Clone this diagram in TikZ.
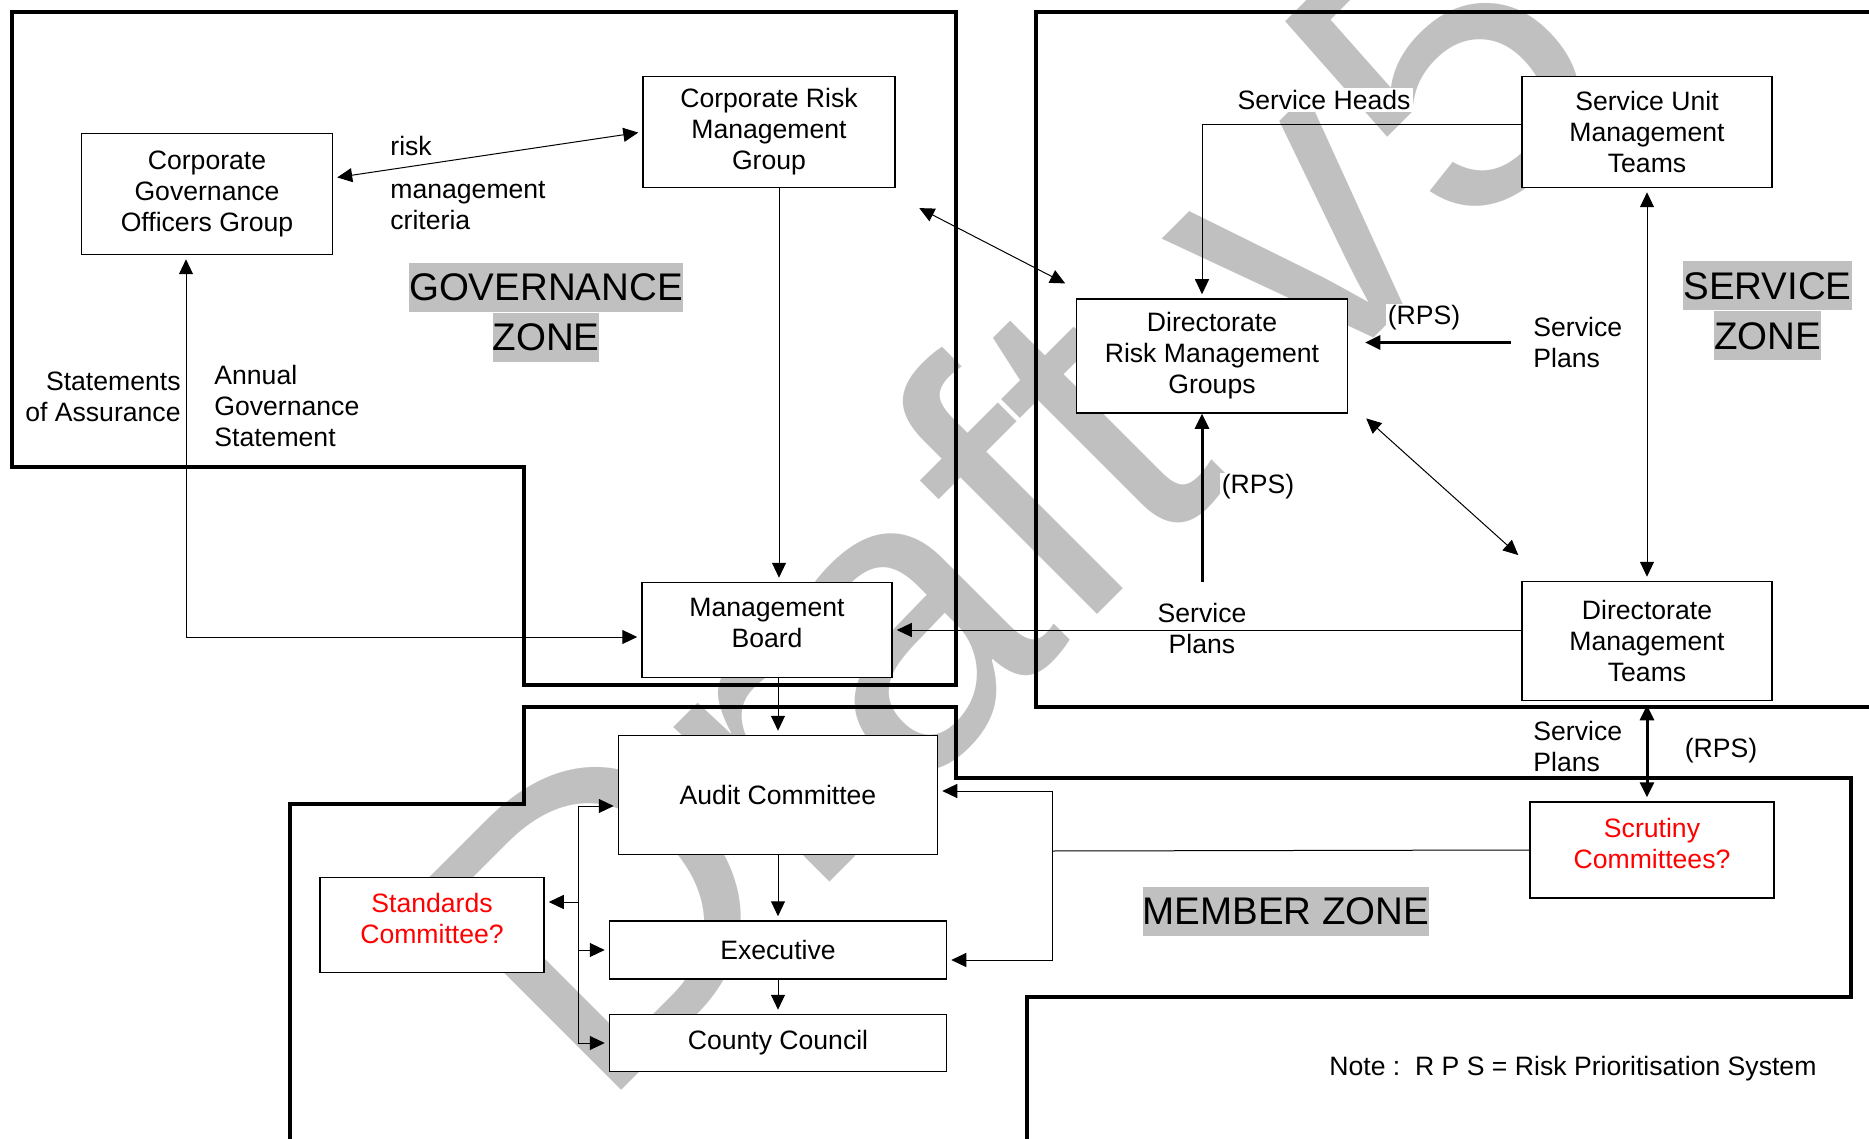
\documentclass[tikz,border=0pt]{standalone}
\usepackage{fontspec}
\setmainfont{Liberation Sans}
\usepackage{xcolor}
\definecolor{shade}{HTML}{C0C0C0}
\definecolor{query}{HTML}{FF0000}
\usepackage{tikz}
\usetikzlibrary{arrows.meta}

\begin{document}
\begin{tikzpicture}[
  x=0.5pt, y=-0.5pt,
  >={Triangle[length=7.5pt, width=7pt]},
  every node/.style={font=\fontsize{13.3}{15.5}\selectfont},
  box/.style={draw, fill=white, line width=0.75pt, align=center, inner sep=0pt},
  qbox/.style={box, text=query, text depth=7pt},
  lbl/.style={fill=white, inner sep=1pt, align=left},
  zonelbl/.style={fill=shade, inner xsep=0pt, inner ysep=0pt, minimum height=24.5pt,
                  font=\fontsize{19.25}{24.5}\selectfont},
  zone/.style={line width=2.4pt, line join=miter},
  link/.style={line width=0.5pt},
  arr/.style={link, ->, shorten >=2pt},
  darr/.style={link, <->, shorten >=2pt, shorten <=2pt},
  thk/.style={line width=1.5pt}
]
\useasboundingbox (0,0) rectangle (1869,1139);

\node[rotate=45, anchor=base west, inner sep=0pt, text=shade,
      font=\fontsize{208}{208}\selectfont] (wm) at (597,1115) {Draft v5};

\node[box, minimum width=125.5pt, minimum height=60.5pt] (cgog) at (207,194) {Corporate\\Governance\\Officers Group};
\node[box, minimum width=126pt, minimum height=55.5pt] (crmg) at (769,132) {Corporate Risk\\Management\\Group};
\node[box, minimum width=125pt, minimum height=47.5pt, text depth=7pt] (board) at (767,630) {Management\\Board};
\node[box, minimum width=159.5pt, minimum height=59.5pt] (audit) at (778,795) {Audit Committee};
\node[box, minimum width=168.5pt, minimum height=29pt] (exec) at (778,950) {Executive};
\node[box, minimum width=168.5pt, minimum height=28.5pt] (council) at (778,1043) {County Council};
\node[qbox, minimum width=112pt, minimum height=47.5pt] (stds) at (432,925) {Standards\\Committee?};
\node[box, minimum width=135.5pt, minimum height=57pt] (drmg) at (1212,356) {Directorate\\Risk Management\\Groups};
\node[box, minimum width=125pt, minimum height=55.5pt] (sumt) at (1647,132) {Service Unit\\Management\\Teams};
\node[box, minimum width=125pt, minimum height=59.5pt] (dmt) at (1647,641) {Directorate\\Management\\Teams};
\node[qbox, minimum width=122pt, minimum height=48pt] (scrut) at (1652,850) {Scrutiny\\Committees?};

\node[zonelbl] (gz1) at (546,287.5) {GOVERNANCE};
\node[zonelbl, anchor=north] (gz2) at (gz1.south) {ZONE};
\node[zonelbl] (sz1) at (1767.5,286) {SERVICE};
\node[zonelbl, anchor=north] (sz2) at (sz1.south) {ZONE};
\node[zonelbl] (mz) at (1286,911.5) {MEMBER ZONE};

\node[lbl, anchor=west] (risk) at (388,146) {risk};
\node[lbl, anchor=west] (crit) at (388,206) {management\\criteria};
\node[lbl, anchor=east, align=right] (soa) at (183,397) {Statements\\of Assurance};
\node[lbl, anchor=west] (ags) at (212,406) {Annual\\Governance\\Statement};
\node[lbl] (shd) at (1324,100) {Service Heads};
\node[lbl, anchor=west] (spd) at (1531,342.5) {Service\\Plans};
\node[lbl] (rps1) at (1424,318) {(RPS)};
\node[lbl] (rps2) at (1258,487) {(RPS)};
\node[lbl, align=center] (spb) at (1202,628.5) {Service\\Plans};
\node[lbl, anchor=west] (spm) at (1531,746.5) {Service\\Plans};
\node[lbl] (rps3) at (1721,751) {(RPS)};
\node[lbl, anchor=west] (note) at (1327,1069) {Note :\ \ R P S = Risk Prioritisation System};

\draw[zone] (12,12) -- (956,12) -- (956,685) -- (524,685) -- (524,467) -- (12,467) -- cycle;
\draw[zone] (1871,12) -- (1036,12) -- (1036,707) -- (1871,707);
\draw[zone] (290,1141) -- (290,804) -- (524,804) -- (524,707) -- (956,707) -- (956,778)
  -- (1851,778) -- (1851,997) -- (1027,997) -- (1027,1141);

\coordinate (crmgout) at ([xshift=5pt]crmg.south);
\coordinate (drmgin) at ([xshift=-5pt]drmg.south);
\coordinate (stdsin) at ([yshift=11.5pt]stds.east);
\coordinate (lbus) at (578,806);
\coordinate (rbus) at (1052,851);

\draw[darr] ([yshift=8pt]cgog.east) -- (crmg.west);
\draw[arr] (crmgout) -- (crmgout |- board.north);
\draw[darr] ([xshift=-10.5pt]cgog.south) |- ([yshift=-3.5pt]board.west);
\draw[arr] (audit.north |- board.south) -- (audit.north);
\draw[arr] (audit.south) -- (exec.north);
\draw[arr] (exec.south) -- (council.north);

\draw[arr] (lbus) -- (lbus -| audit.west);
\draw[arr] (lbus) |- (council.west);
\draw[arr] (lbus |- exec.west) -- (exec.west);
\draw[arr] (lbus |- stdsin) -- (stdsin);

\draw[link] (scrut.west) -- (rbus);
\draw[arr] (rbus) |- ([yshift=2pt]audit.east);
\draw[arr] (rbus) |- ([yshift=-5pt]exec.east);

\draw[arr] (dmt.west |- board.east) -- (board.east);
\draw[arr] ([yshift=3.5pt]sumt.west) -| ([xshift=-5pt]drmg.north);
\draw[arr, thk, shorten >=8.5pt] ([xshift=-10pt]spd.west) -- (drmg.east |- spd.west);
\draw[arr, thk, shorten >=0pt] (drmgin |- board.north) -- (drmgin);
\draw[darr] (sumt.south) -- (dmt.north);
\draw[darr, thk] (dmt.south) -- (dmt.south |- scrut.north);
\draw[darr] ([shift={(10pt,-9pt)}]crmg.south east) -- ([shift={(-3.5pt,6.5pt)}]drmg.north west);
\draw[darr] ([shift={(7.5pt,-1pt)}]drmg.south east) -- ([yshift=11.5pt]dmt.north west);
\end{tikzpicture}
\end{document}
